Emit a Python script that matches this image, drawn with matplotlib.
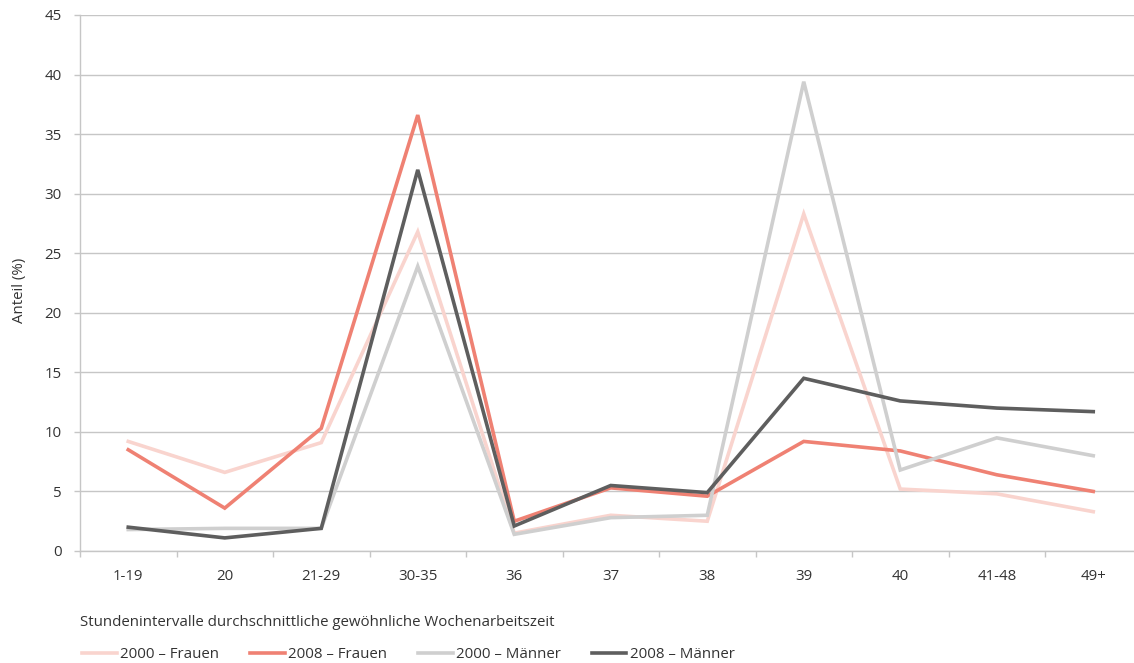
import matplotlib
matplotlib.use("Agg")
import matplotlib.pyplot as plt
import numpy as np

plt.rcParams['font.family'] = ['Open Sans', 'DejaVu Sans']

# categories on the x axis
categories = ["1-19", "20", "21-29", "30-35", "36", "37", "38", "39", "40", "41-48", "49+"]

# shares in percent
frauen_2000 = [9.2, 6.6, 9.1, 26.8, 1.5, 3.0, 2.5, 28.3, 5.2, 4.8, 3.3]
frauen_2008 = [8.5, 3.6, 10.3, 36.6, 2.5, 5.3, 4.6, 9.2, 8.4, 6.4, 5.0]
maenner_2000 = [1.8, 1.9, 1.9, 23.9, 1.4, 2.8, 3.0, 39.4, 6.8, 9.5, 8.0]
maenner_2008 = [2.0, 1.1, 1.9, 32.0, 2.1, 5.5, 4.9, 14.5, 12.6, 12.0, 11.7]

series_labels = ["2000 – Frauen", "2008 – Frauen", "2000 – Männer", "2008 – Männer"]
colors = ["#f9d4ce", "#ef8173", "#cfcfcf", "#5e5e5e"]

W, H = 1134, 663
fs = 10.8
fig = plt.figure(figsize=(W / 100, H / 100), dpi=100)
ax = fig.add_axes([80 / W, (H - 551) / H, 1061.5 / W, (551 - 15) / H])

x = np.arange(len(categories))
for vals, lab, col in zip([frauen_2000, frauen_2008, maenner_2000, maenner_2008], series_labels, colors):
    ax.plot(x, vals, color=col, lw=2.6, label=lab, solid_joinstyle='miter')

txt = "#333333"
grid = "#c6c6c6"

ax.set_xlim(-0.5, len(categories) - 0.5)
ax.set_ylim(0, 45)
ax.set_yticks(range(0, 46, 5))
ax.yaxis.grid(True, color=grid, lw=1)
ax.set_axisbelow(True)

# boundary ticks (major) and labels at centers (minor)
ax.set_xticks(np.arange(-0.5, len(categories), 1))
ax.set_xticklabels([])
ax.set_xticks(x, minor=True)
ax.set_xticklabels(categories, minor=True)
ax.tick_params(axis='x', which='major', length=4, color=grid, width=1)
ax.tick_params(axis='x', which='minor', length=0, pad=13, labelsize=fs, labelcolor=txt)
ax.tick_params(axis='y', length=4, color=grid, width=1, pad=9, labelsize=fs, labelcolor=txt)

for s in ["top", "right"]:
    ax.spines[s].set_visible(False)
for s in ["left", "bottom"]:
    ax.spines[s].set_color(grid)
    ax.spines[s].set_linewidth(1)

fig.text(20 / W, (H - 290) / H, "Anteil (%)", rotation=90, ha='center', va='center', fontsize=fs, color=txt)
fig.text(80 / W, (H - 622) / H, "Stundenintervalle durchschnittliche gewöhnliche Wochenarbeitszeit",
         ha='left', va='center', fontsize=fs, color=txt)

leg = fig.legend(loc='center left', bbox_to_anchor=(82 / W, (H - 655) / H), ncol=4, frameon=False,
                 borderaxespad=0, borderpad=0, handlelength=2.3, handletextpad=0.25,
                 columnspacing=2.05, fontsize=fs)
for t in leg.get_texts():
    t.set_color(txt)

fig.savefig("out.png", dpi=100)
